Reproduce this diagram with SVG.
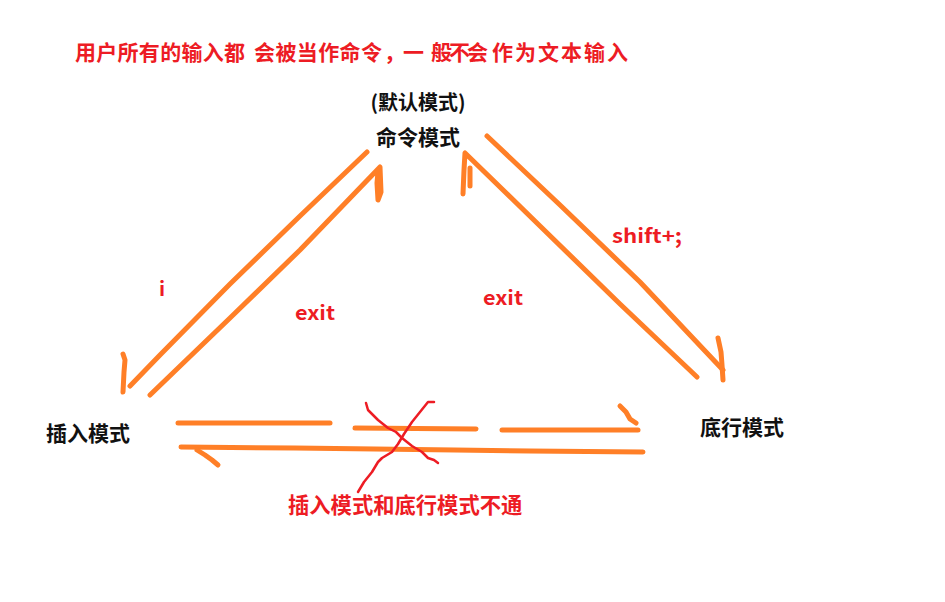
<svg xmlns="http://www.w3.org/2000/svg" width="945" height="602" viewBox="0 0 945 602">
<style>
.t{font-family:"Noto Sans CJK SC","Noto Sans",sans-serif;font-weight:bold}
.red{fill:#ED1C24}
.blk{fill:#111}
.o{fill:none;stroke:#FF7F27;stroke-width:5;stroke-linecap:round;stroke-linejoin:round}
.x{fill:none;stroke:#ED1C24;stroke-width:2.5;stroke-linecap:round;stroke-linejoin:round}
</style>
<rect width="945" height="602" fill="#fff"/>
<g id="title">
<text class="t red" font-size="21" x="75" y="60" textLength="170" lengthAdjust="spacing">用户所有的输入都</text>
<text class="t red" font-size="21" x="254" y="60" textLength="128" lengthAdjust="spacing">会被当作命令</text>
<text class="t red" font-size="21" x="384" y="60">，</text>
<text class="t red" font-size="21" x="403" y="60">一</text>
<text class="t red" font-size="21" x="431" y="60" textLength="57" lengthAdjust="spacing">般不会</text>
<text class="t red" font-size="21" x="492" y="60" textLength="136" lengthAdjust="spacing">作为文本输入</text>
</g>
<g id="cmd">
<text class="t blk" font-size="20" x="418" y="110" text-anchor="middle">(默认模式)</text>
<text class="t blk" font-size="21" x="418" y="145" text-anchor="middle">命令模式</text>
</g>
<g id="insert">
<text class="t blk" font-size="21" x="46" y="441">插入模式</text>
</g>
<g id="bottom">
<text class="t blk" font-size="21" x="700" y="435">底行模式</text>
</g>
<g id="connectors">
<path class="o" d="M367,152 L300,216 L230,284 L160,355 L130,386"/>
<path class="o" d="M123,354 L125,360 L124,372 L123,392"/>
<path class="o" d="M150,395 L230,318 L300,250 L380,167 L381,192 L378,200 L377,183 L378,172"/>
<path class="o" d="M487,136 L560,205 L640,282 L723,370"/>
<path class="o" d="M718,338 L721,352 L722,365 L723,380"/>
<path class="o" d="M697,377 L620,304 L540,226 L465,153 L464,170 L463,194"/>
<path class="o" d="M470,168 L470,186"/>
<path class="o" d="M178,423 L330,423"/>
<path class="o" d="M355,428 L476,429"/>
<path class="o" d="M502,430 L638,430"/>
<path class="o" d="M620,406 L626,412 L630,419 L636,423"/>
<path class="o" d="M181,447 L295,448 L375,449 L455,450 L530,451 L643,452"/>
<path class="o" d="M197,450 L205,455 L212,460 L218,465"/>
</g>
<g id="labels">
<text class="t red" font-size="20" x="159" y="296">i</text>
<text class="t red" font-size="20" x="295" y="320" textLength="40" lengthAdjust="spacingAndGlyphs">exit</text>
<text class="t red" font-size="20" x="483" y="305" textLength="40" lengthAdjust="spacingAndGlyphs">exit</text>
<text class="t red" font-size="20" x="612" y="243" textLength="70" lengthAdjust="spacingAndGlyphs">shift+;</text>
</g>
<g id="blocked">
<path class="x" d="M366,403 L368,410 L378,420 L388,428 L396,432 L402,438 L412,446 L422,452 L428,458 L434,460 L438,463"/>
<path class="x" d="M434,402 L428,402 L420,412 L412,422 L404,434 L398,444 L392,452 L382,458 L378,462 L372,472 L364,482 L358,492"/>
<text class="t red" font-size="21.3" x="288" y="513">插入模式和底行模式不通</text>
</g>
</svg>
